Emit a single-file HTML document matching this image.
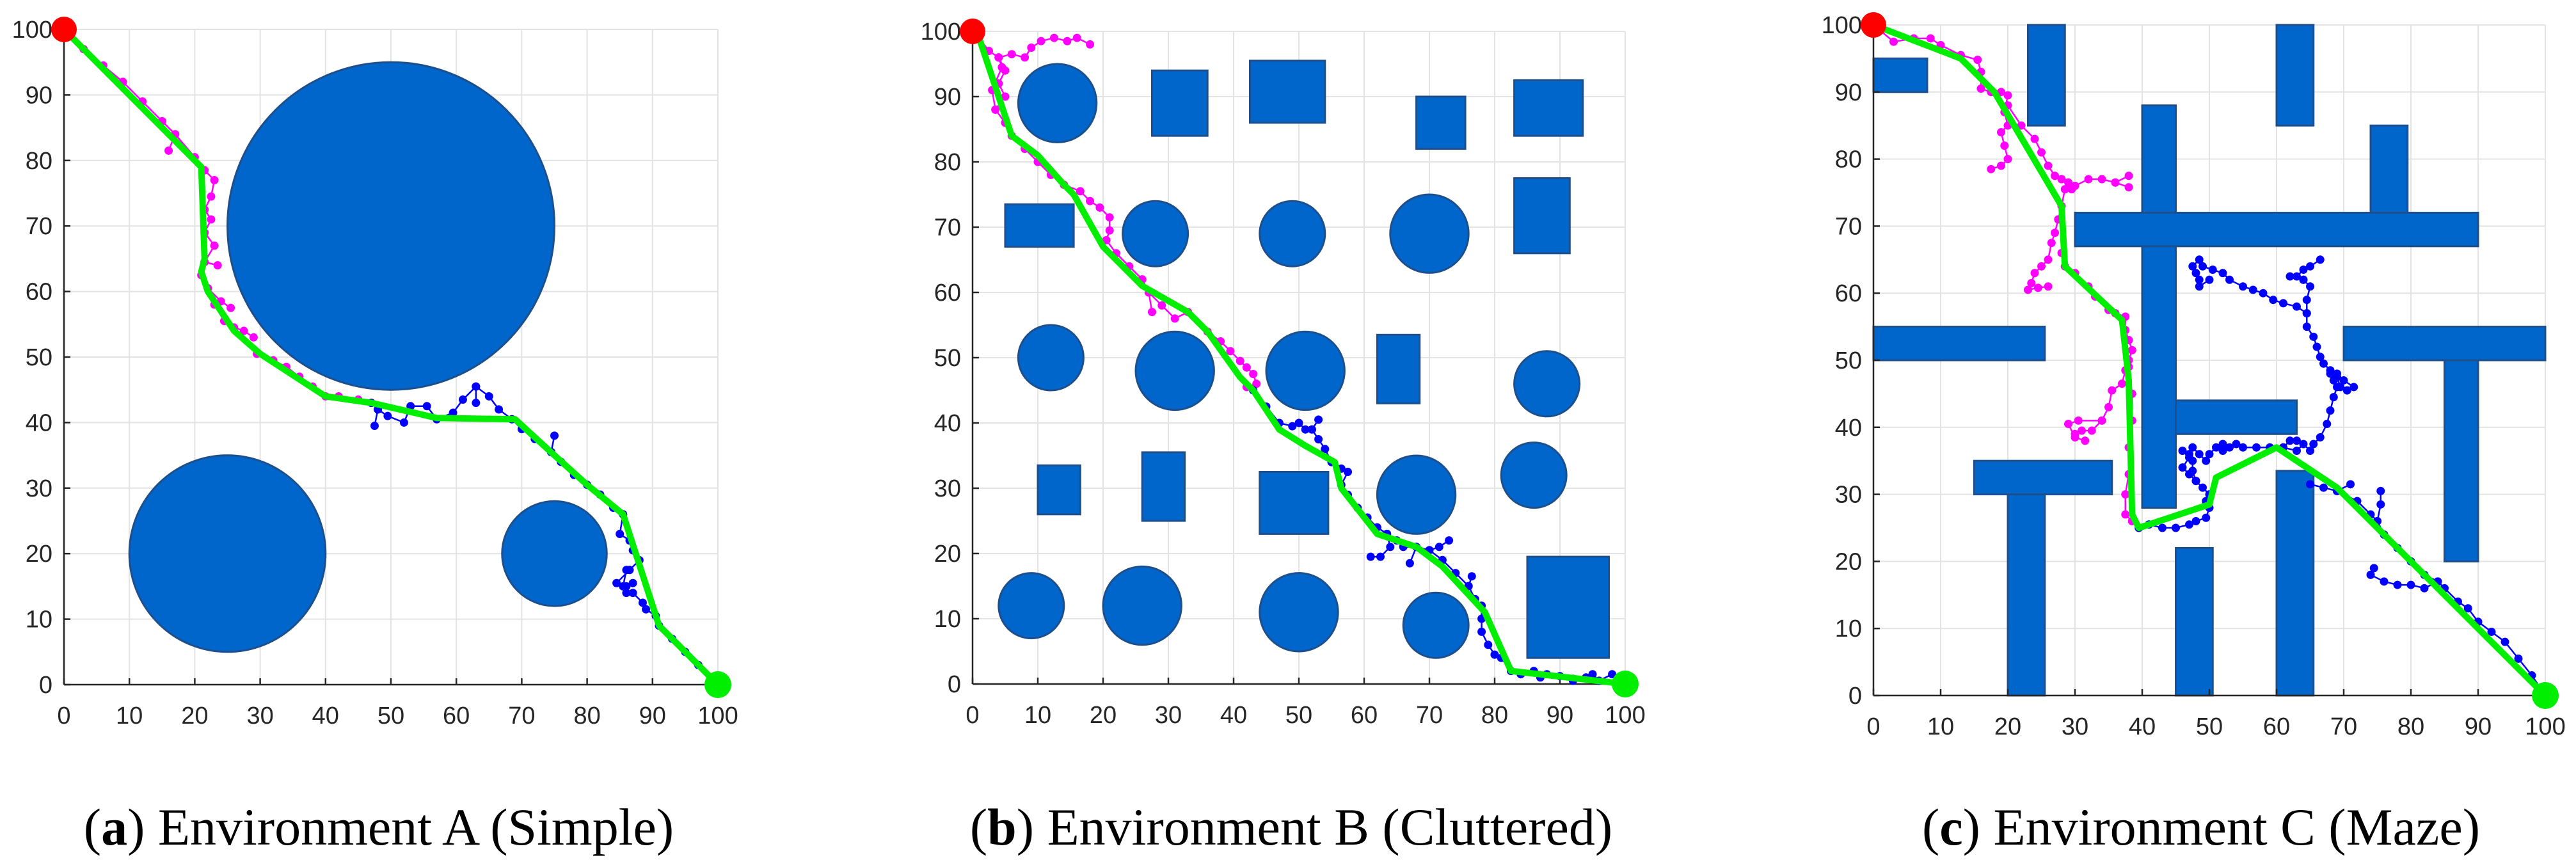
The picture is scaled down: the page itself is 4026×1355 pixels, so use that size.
<!DOCTYPE html>
<html><head><meta charset="utf-8"><style>
html,body{margin:0;padding:0;background:#fff;}
svg{display:block;}
</style></head><body>
<svg id="fig" width="4026" height="1355" viewBox="0 0 4026 1355" xmlns="http://www.w3.org/2000/svg"></svg>
<script>
const ticks=[0,10,20,30,40,50,60,70,80,90,100];
const tickLabels=["0","10","20","30","40","50","60","70","80","90","100"];
// Panel A data
const circlesA=[[50,70,25],[25,20,15],[75,20,8]];
const rectsA=[];
const greenA=[[0,100],[21,79],[21.5,65],[21,63],[22,60],[26,54],[30,50.5],[40,44],[47,43],[57,40.7],[69,40.5],[75,35],[80,30.5],[85.5,26],[91,9],[100,0]];
const magentaA=[[[0,100],[3,97],[6,94.5],[9,92],[12,89],[15,86],[17,84],[16,81.5]],[[17,84],[20,80.5],[21.5,78.5],[23,77],[22.5,74.5],[21.5,72.5],[22.5,71],[21.5,69],[23,67],[21.5,64.5],[23.5,64]],[[21.5,64.5],[21,62.5],[22,60.5],[24,58.5],[25.5,57.5]],[[22,60.5],[23,58],[24.5,55.5],[26,54.5],[27.5,54],[29,53]],[[26,54.5],[29.5,50.5],[32,49.5],[34,48.5],[36,47],[38,45.5],[40,44],[42,44],[45,43.5],[47,43]]];
const blueA=[[[47,43],[48,42],[47.5,39.5]],[[48,42],[49.5,41],[52,40],[53,42.5],[55.5,42.5],[57,40.5],[59.5,41.5],[61,43.5],[63,45.5],[63,43]],[[63,45.5],[65,44],[66.5,42],[68.5,40.5],[70,39],[72,37.5],[74.5,35.5],[75,38]],[[74.5,35.5],[76,34],[78,32],[80,30.5],[82,29],[84,27],[85.5,26],[85,23],[86.5,22],[87,20.5],[88,19],[86.5,17.5],[84.5,15.5],[86,15],[87,15.5]],[[86,17.5],[85.5,15],[86,14],[87,14],[88.5,12.5],[89,11.5],[90.5,10.5],[91,9],[93,7],[95,5],[97,3],[99,1],[100,0]]];
// Panel B data
const circlesB=[[13,89,6],[28,69,5],[49,69,5],[70,69,6],[12,50,5],[31,48,6],[51,48,6],[88,46,5],[68,29,6],[86,32,5],[9,12,5],[26,12,6],[50,11,6],[71,9,5]];
const rectsB=[[27.5,84,36,94],[42.5,86,54,95.5],[68,82,75.5,90],[83,84,93.5,92.5],[5,67,15.5,73.5],[83,66,91.5,77.5],[62,43,68.5,53.5],[10,26,16.5,33.5],[26,25,32.5,35.5],[44,23,54.5,32.5],[85,4,97.5,19.5]];
const greenB=[[0,100],[1,99],[6,84],[10,81],[14,76.5],[15.5,75],[20,67],[26,61],[33,57],[36,54],[41,47],[43,45],[47,39],[51,36.5],[55.5,34],[56.5,30],[62,23],[68,21],[72,18],[78.5,11],[82.5,2],[100,0]];
const magentaB=[[[0,100],[1,99],[2.5,97],[4,96],[5,94],[4,92],[5,90],[3.5,88],[5,86],[6,84],[8,82],[10,80],[12,78],[14,76.5],[16.5,75.5],[18,74],[19.5,73],[21,71.5],[21,69.5],[20.5,68],[22,66],[24,64],[26,62],[27,60],[27.5,57]],[[4,96],[6,96.5],[8,96],[9,97.5],[10.5,98.5],[12.5,99],[14.5,98.5],[16,99],[18,98]],[[4,96],[4.5,94.5],[3,91],[3.5,88]],[[27,60],[29,58],[31,56],[33,57],[36,54],[38,52.5],[39.5,51],[41,49.5],[42,48.5],[43,47.5],[43.5,46],[42,45.5]]];
const blueB=[[[43,45],[45,42.5],[47,40],[49,39.5],[50,40],[51,39],[52,39],[53,40.5]],[[52,39],[53,37.5],[54,36],[55,34],[56.5,33],[57.5,32.5],[56.5,30.5],[57.5,29],[59,27],[60.5,25.5],[62,24],[63.5,23],[65,22],[66,21],[68,21],[70,20.5],[71.5,21],[73,22]],[[63.5,23],[64,21],[62.5,19.5],[61,19.5]],[[68,21],[67,18.5]],[[70,20.5],[72,19],[74,17],[76,15],[76.5,16.5]],[[76,15],[77,13],[78,12],[78,10],[78,8],[79,6],[80,4.5],[81,4],[82.5,2],[84,1.5],[86,2],[87,1],[88,1.5],[90,1.2],[92,0.5]],[[92,0.8],[94,1],[95,1.5],[96,0.5],[98,1.5],[99,0.5],[100,0]]];
// Panel C data
const circlesC=[];
const rectsC=[[0,90,8,95],[23,85,28.5,100],[60,85,65.5,100],[40,28,45,88],[30,67,90,72],[74,72,79.5,85],[0,50,25.5,55],[70,50,100,55],[85,20,90,50],[45,39,63,44],[15,30,35.5,35],[20,0,25.5,30],[45,0,50.5,22],[60,0,65.5,33.5]];
const greenC=[[0,100],[13,95],[18,90],[28,73],[28.5,64],[37,56],[38,47],[38.5,27],[39.5,25],[50,28.5],[51,32.5],[60,37],[69,31],[100,0]];
const magentaC=[[[0,100],[3,97.5],[6,98],[8.5,98],[10,97],[13,95.5],[15.5,94.8],[16,93],[16,90.5],[17.5,90],[19,90],[20,89.5],[19.5,87],[20,85],[19,84],[19.5,82],[20,80],[19,79],[17.5,78.5]],[[20,88],[22,85],[24,83],[25,81],[26,79],[27,77.5],[28,77],[29,76.5],[29.5,75.5]],[[28,77],[30,76],[32,77],[34,77],[36,76.5],[38,77.5]],[[36,76.5],[38,75.8]],[[28.5,75.5],[28,73],[27.5,71],[27,69],[26.5,67.5],[26,65],[25,64],[24,63],[23.5,61.5],[23,60.5],[24.5,60.8],[26,61]],[[28,66],[28.5,64],[30,63],[32,61],[33,59.5],[35,57.5],[36,57],[37.5,56.5],[37.5,54.5],[38,53],[38.5,51.5],[38,50],[37.5,48.5],[37,46.5],[35.5,45.5],[35,43],[34,41],[32.5,39.5],[31,39.5],[30,39]],[[34,41],[30.5,41],[29,40.5],[30,38.5],[31.5,38]],[[38,49],[38.5,45],[38.5,41],[38,37],[38,33],[37.5,30],[37.5,27],[38.5,26]]];
const blueC=[[[39.5,25],[41,25.5],[43,25],[45,25],[47,25.5],[48,26],[49.5,26.5],[50,28],[49.5,29],[50,30],[49,31],[48,32],[47.5,33.5],[47.5,35],[47,36],[47.5,37],[48.5,36],[49.5,35],[50,36],[51,37],[52,36.5],[52,37.5],[53,37],[54,37.5],[55,37],[57,37],[59,37],[61,37],[63,36.5],[64,37.5],[65,36.5],[65.5,37.5],[66.5,38.5],[67.5,40.5],[68,42.5],[68.5,44.5],[69,46],[68.5,47],[68,48],[69,48],[70,47],[71.5,46],[70.5,45.5],[69.5,46],[69,47.5],[68,48.5],[67,49.5],[66.5,50.5],[66,52],[65.5,53.5],[64.5,55],[64.5,57],[64.5,59],[65,61],[64,62],[63,62.5],[64,63.5],[65,64],[66.5,65]],[[64,62],[62,62.5]],[[64.5,57],[63,58],[61,58.5],[59.5,59],[58,60],[56.5,60.5],[55,61],[53,62],[52,63],[50.5,63.5],[49,64],[48.5,65],[47.5,64],[48,63],[48.5,62],[48.5,61],[50,62]],[[48,32],[47,33],[46,34],[47,35.5],[46,36.5]],[[61,37],[62,38],[63,38]],[[65,31.5],[67,31],[69,30.5],[71,31.5]],[[69,30.5],[72,29],[74,27],[75,26],[75.5,28.5],[75.5,30.5]],[[75,26],[76,24],[78,22],[80,20],[82,18],[84,17],[85,16],[87,14],[88.5,13],[90,11],[92,9.5],[94,8],[96,5.5],[98,3],[100,0]],[[84,17],[82,16],[80,16.5],[78,16.5],[76,17],[74,18],[74.5,19]]];
const captions=[["a"," Environment A (Simple)"],["b"," Environment B (Cluttered)"],["c"," Environment C (Maze)"]];

const panels=[
 {x0:100,x1:1122,y0:1070,y1:46,circles:circlesA,rects:rectsA,green:greenA,mag:magentaA,blue:blueA,cap:captions[0],cx:592,id:"a"},
 {x0:1520,x1:2540,y0:1069,y1:49,circles:circlesB,rects:rectsB,green:greenB,mag:magentaB,blue:blueB,cap:captions[1],cx:2018,id:"b"},
 {x0:2928,x1:3978,y0:1087,y1:39,circles:circlesC,rects:rectsC,green:greenC,mag:magentaC,blue:blueC,cap:captions[2],cx:3440,id:"c"}
];
const NS="http://www.w3.org/2000/svg";
const svg=document.getElementById('fig');
function mk(tag,attrs,parent){const e=document.createElementNS(NS,tag);for(const k in attrs)e.setAttribute(k,attrs[k]);(parent||svg).appendChild(e);return e;}
panels.forEach(p=>{
 const g=mk('g',{});
 
 
 const sx=v=>p.x0+(p.x1-p.x0)*v/100;
 const sy=v=>p.y0+(p.y1-p.y0)*v/100;
 // grid
 ticks.forEach((t,i)=>{
  const gv=mk('line',{x1:sx(t),x2:sx(t),y1:sy(0),y2:sy(100),stroke:'#e3e3e3','stroke-width':2},g);
  
  
  const gh=mk('line',{x1:sx(0),x2:sx(100),y1:sy(t),y2:sy(t),stroke:'#e3e3e3','stroke-width':2},g);
  
  
 });
 // obstacles
 p.circles.forEach((c,i)=>{
  const e=mk('ellipse',{cx:sx(c[0]),cy:sy(c[1]),rx:Math.abs(sx(c[2])-sx(0)),ry:Math.abs(sy(c[2])-sy(0)),fill:'#0066cc',stroke:'#1d4f8c','stroke-width':3},g);
  
  
 });
 p.rects.forEach((r,i)=>{
  const e=mk('rect',{x:sx(r[0]),y:sy(r[3]),width:sx(r[2])-sx(r[0]),height:sy(r[1])-sy(r[3]),fill:'#0066cc',stroke:'#1d4f8c','stroke-width':3},g);
  
  
 });
 // axes
 const ax=mk('line',{x1:sx(0),x2:sx(100),y1:sy(0),y2:sy(0),stroke:'#262626','stroke-width':2.5},g);
 
 
 const ay=mk('line',{x1:sx(0),x2:sx(0),y1:sy(0),y2:sy(100),stroke:'#262626','stroke-width':2.5},g);
 
 
 ticks.forEach((t,i)=>{
  mk('line',{x1:sx(t),x2:sx(t),y1:sy(0),y2:sy(0)-10,stroke:'#262626','stroke-width':2.5},g);
  mk('line',{x1:sx(0),x2:sx(0)+10,y1:sy(t),y2:sy(t),stroke:'#262626','stroke-width':2.5},g);
  const tx=mk('text',{x:sx(t),y:sy(0)+61,'text-anchor':'middle','font-family':'Liberation Sans, sans-serif','font-size':38,fill:'#262626'},g);
  tx.textContent=tickLabels[i];
  
  
  const ty=mk('text',{x:sx(0)-18,y:sy(t)+13,'text-anchor':'end','font-family':'Liberation Sans, sans-serif','font-size':38,fill:'#262626'},g);
  ty.textContent=tickLabels[i];
  
  
 });
 // trees
 const drawTree=(branches,col,name)=>{
  branches.forEach(b=>{
   const pl=mk('polyline',{points:b.map(q=>sx(q[0])+','+sy(q[1])).join(' '),fill:'none',stroke:col,'stroke-width':2.5},g);
   
   
   b.forEach(q=>{
    const d=mk('circle',{cx:sx(q[0]),cy:sy(q[1]),r:6.5,fill:col},g);
    
    
   });
  });
 };
 drawTree(p.mag,'#ff00ff','start-tree');
 drawTree(p.blue,'#0000ff','goal-tree');
 const gp=mk('polyline',{points:p.green.map(q=>sx(q[0])+','+sy(q[1])).join(' '),fill:'none',stroke:'#00ee00','stroke-width':10,'stroke-linejoin':'round'},g);
 
 
 const s=mk('circle',{cx:sx(0),cy:sy(100),r:20,fill:'#ff0000'},g);
 
 
 const e=mk('circle',{cx:sx(100),cy:sy(0),r:21,fill:'#00ee00'},g);
 
 
 const cap=mk('text',{x:p.cx,y:1320,'text-anchor':'middle','font-family':'Liberation Serif, serif','font-size':82,fill:'#000'},g);
 
 
 const t1=mk('tspan',{},cap);t1.textContent='(';
 const t2=mk('tspan',{'font-weight':'bold'},cap);t2.textContent=p.cap[0];
 const t3=mk('tspan',{},cap);t3.textContent=')'+p.cap[1];
});
</script>
</body></html>
